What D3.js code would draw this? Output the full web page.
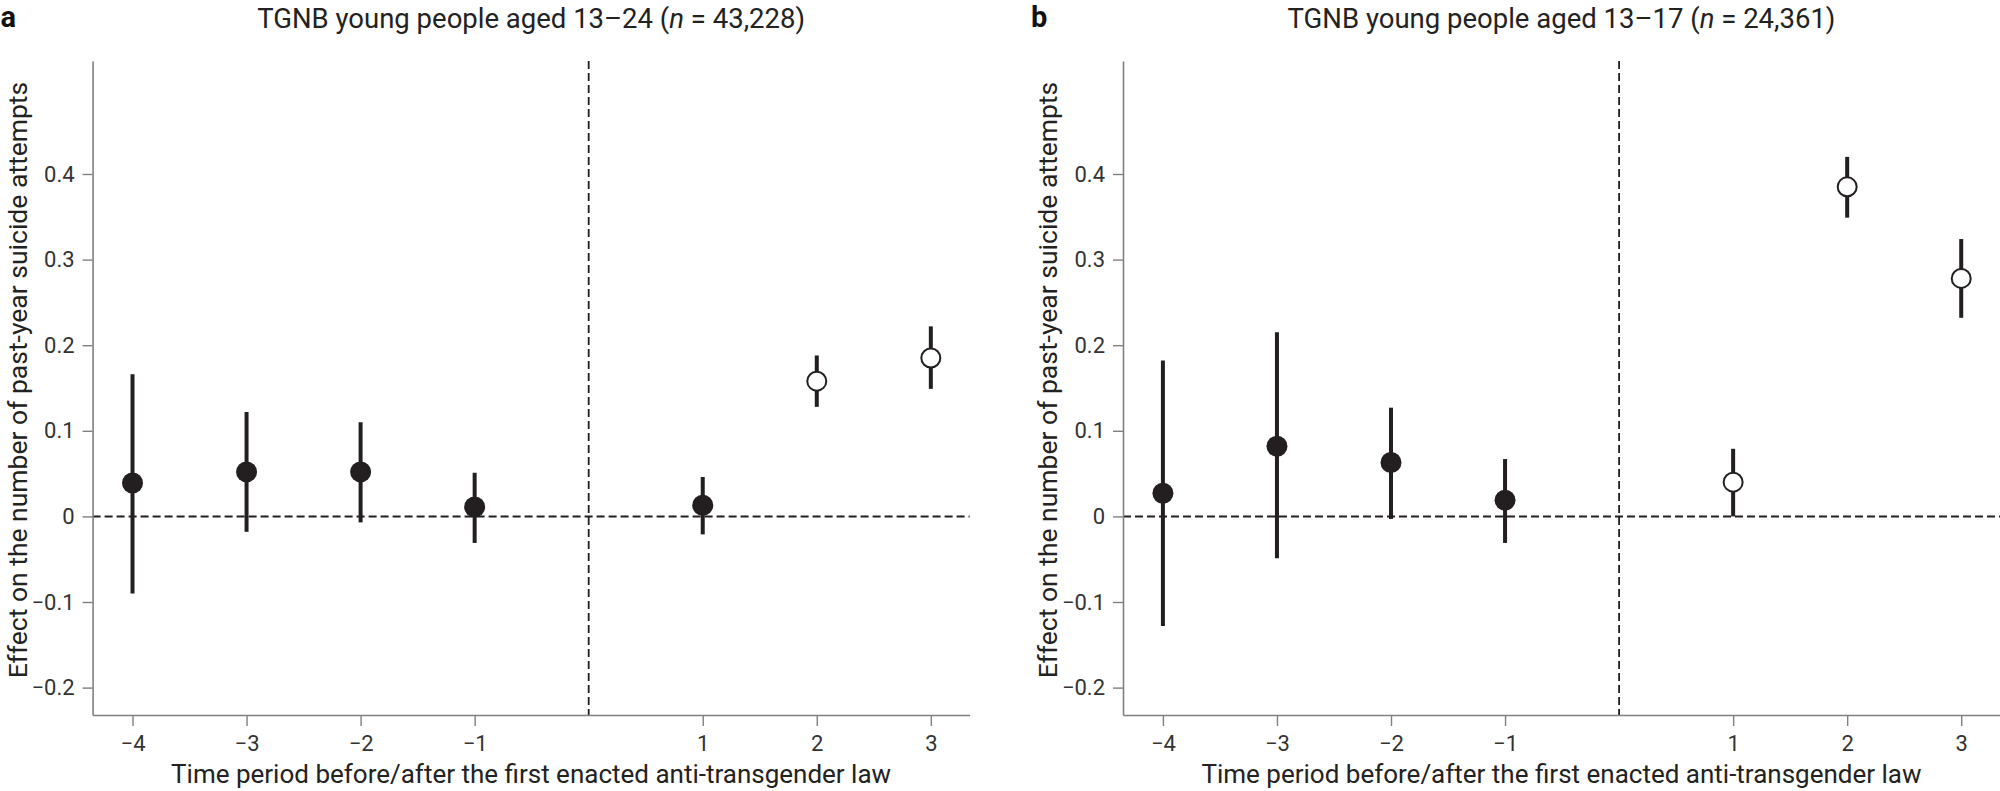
<!DOCTYPE html>
<html>
<head>
<meta charset="utf-8">
<script src="https://cdn.jsdelivr.net/npm/d3@7"></script>
<style>
  body { margin: 0; background: #fff; }
  text { font-family: Roboto, "Liberation Sans", sans-serif; }
</style>
</head>
<body>
<div id="container"></div>
<script>
// time periods relative to the first enacted law
const periods = [-4, -3, -2, -1, 1, 2, 3];

// panel a: ages 13-24
const estA  = [0.039, 0.052, 0.052, 0.011, 0.013, 0.158, 0.185];
const lowA  = [-0.090, -0.018, -0.007, -0.031, -0.021, 0.128, 0.149];
const highA = [0.166, 0.122, 0.110, 0.051, 0.046, 0.188, 0.222];
const openA = [false, false, false, false, false, true, true];

// panel b: ages 13-17
const estB  = [0.027, 0.082, 0.063, 0.019, 0.040, 0.385, 0.278];
const lowB  = [-0.128, -0.049, -0.003, -0.031, 0.000, 0.349, 0.232];
const highB = [0.182, 0.215, 0.127, 0.067, 0.079, 0.420, 0.324];
const openB = [false, false, false, false, true, true, true];

const yTicks = [-0.2, -0.1, 0, 0.1, 0.2, 0.3, 0.4];
const yLabel = "Effect on the number of past-year suicide attempts";
const xLabel = "Time period before/after the first enacted anti-transgender law";

const W = 2000, H = 791;
const plotW = 877, plotH = 654, plotTop = 61;
const ink = "#231f20";

const svg = d3.select("#container").append("svg")
    .attr("width", W)
    .attr("height", H);

const x = d3.scaleLinear().domain([-4.35, 3.34]).range([0, plotW]);
const y = d3.scaleLinear().domain([-0.232, 0.532]).range([plotH, 0]);

const fmtY = d => d === 0 ? "0" : d3.format(".1f")(d).replace("-", "\u2212");
const fmtX = d => String(d).replace("-", "\u2212");

function drawPanel(left, letter, titleParts, est, low, high, open) {
    const g = svg.append("g").attr("transform", `translate(${left},${plotTop})`);

    // zero reference line
    g.append("line")
        .attr("x1", 0).attr("x2", plotW)
        .attr("y1", y(0)).attr("y2", y(0))
        .attr("stroke", ink).attr("stroke-width", 2)
        .attr("stroke-dasharray", "8,4");

    // law enactment line
    g.append("line")
        .attr("x1", x(0)).attr("x2", x(0))
        .attr("y1", 0).attr("y2", plotH)
        .attr("stroke", ink).attr("stroke-width", 1.8)
        .attr("stroke-dasharray", "8,4");

    const yAxis = g.append("g")
        .call(d3.axisLeft(y).tickValues(yTicks).tickSize(10).tickSizeOuter(0).tickPadding(8).tickFormat(fmtY));
    const xAxis = g.append("g")
        .attr("transform", `translate(0,${plotH})`)
        .call(d3.axisBottom(x).tickValues(periods).tickSize(11).tickSizeOuter(0).tickPadding(9).tickFormat(fmtX));

    [yAxis, xAxis].forEach(a => {
        a.select(".domain").attr("stroke", "#808080").attr("stroke-width", 1.6);
        a.selectAll(".tick line").attr("stroke", "#808080").attr("stroke-width", 1.4);
        a.selectAll(".tick text").attr("fill", "#333").style("font-size", "22px");
    });

    const rows = periods.map((p, i) => ({p, est: est[i], low: low[i], high: high[i], open: open[i]}));

    g.selectAll(".ci").data(rows).enter().append("line")
        .attr("class", "ci")
        .attr("x1", d => x(d.p)).attr("x2", d => x(d.p))
        .attr("y1", d => y(d.low)).attr("y2", d => y(d.high))
        .attr("stroke", ink).attr("stroke-width", 4);

    g.selectAll(".pt").data(rows).enter().append("circle")
        .attr("class", "pt")
        .attr("cx", d => x(d.p)).attr("cy", d => y(d.est))
        .attr("r", d => d.open ? 9.5 : 10.5)
        .attr("fill", d => d.open ? "#fff" : ink)
        .attr("stroke", ink).attr("stroke-width", d => d.open ? 2 : 0);

    // axis titles
    g.append("text")
        .attr("transform", `translate(-66,${plotH / 2 - 8}) rotate(-90)`)
        .attr("text-anchor", "middle")
        .attr("fill", "#222")
        .style("font-size", "26.5px")
        .text(yLabel);

    g.append("text")
        .attr("x", plotW / 2).attr("y", plotH + 68)
        .attr("text-anchor", "middle")
        .attr("fill", "#222")
        .style("font-size", "26px")
        .text(xLabel);

    // panel letter and centred title
    svg.append("text")
        .attr("x", left - 92).attr("y", 27)
        .style("font-size", "29px").style("font-weight", "bold")
        .attr("fill", "#111")
        .text(letter);

    const t = svg.append("text")
        .attr("x", left + plotW / 2).attr("y", 28)
        .attr("text-anchor", "middle")
        .attr("fill", "#222")
        .style("font-size", "27.5px");
    titleParts.forEach(part => {
        t.append("tspan").style("font-style", part.italic ? "italic" : "normal").text(part.s);
    });
}

drawPanel(92.6, "a",
    [{s: "TGNB young people aged 13\u201324 ("}, {s: "n", italic: true}, {s: " = 43,228)"}],
    estA, lowA, highA, openA);
drawPanel(1123, "b",
    [{s: "TGNB young people aged 13\u201317 ("}, {s: "n", italic: true}, {s: " = 24,361)"}],
    estB, lowB, highB, openB);
</script>
</body>
</html>
